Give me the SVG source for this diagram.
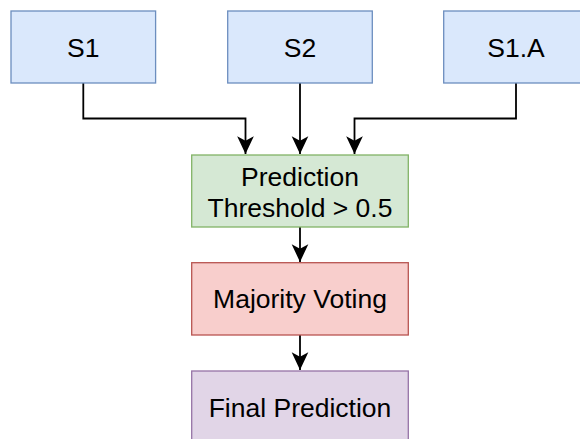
<svg xmlns="http://www.w3.org/2000/svg" width="580" height="439" viewBox="0 0 580 439">
  <style>
    .box { stroke-width: 1.3; }
    .blue { fill: #dae8fc; stroke: #6c8ebf; }
    .green { fill: #d5e8d4; stroke: #82b366; }
    .red { fill: #f8cecc; stroke: #b85450; }
    .purple { fill: #e1d5e7; stroke: #9673a6; }
    .lbl { font-family: "Liberation Sans", Arial, sans-serif; font-size: 26.5px; fill: #000000; text-anchor: middle; }
    .edge { fill: none; stroke: #000000; stroke-width: 1.8; }
  </style>
  <defs>
    <marker id="arrow" markerUnits="userSpaceOnUse" markerWidth="20" markerHeight="20" viewBox="-17 -9 18 18" refX="0" refY="0" orient="auto">
      <path d="M0,0 L-16,-7.5 L-12,0 L-16,7.5 Z" fill="#000000" stroke="none"/>
    </marker>
  </defs>
  <rect width="580" height="439" fill="#ffffff"/>

  <g id="edges">
    <path class="edge" d="M83.3,83 V118.5 H245.5 V154" marker-end="url(#arrow)"/>
    <path class="edge" d="M300,83 V154" marker-end="url(#arrow)"/>
    <path class="edge" d="M516,83 V118.5 H354.5 V154" marker-end="url(#arrow)"/>
    <path class="edge" d="M300,227 V262" marker-end="url(#arrow)"/>
    <path class="edge" d="M300,335 V370" marker-end="url(#arrow)"/>
  </g>

  <g id="node-s1">
    <rect class="box blue" x="11" y="11" width="144.6" height="72"/>
    <text class="lbl" x="83.3" y="56.5">S1</text>
  </g>
  <g id="node-s2">
    <rect class="box blue" x="227.7" y="11" width="144.6" height="72"/>
    <text class="lbl" x="300" y="56.5">S2</text>
  </g>
  <g id="node-s1a">
    <rect class="box blue" x="443.7" y="11" width="144.6" height="72"/>
    <text class="lbl" x="516" y="56.5">S1.A</text>
  </g>
  <g id="node-threshold">
    <rect class="box green" x="191.7" y="155" width="216.6" height="72"/>
    <text class="lbl" x="300" y="185.5">Prediction</text>
    <text class="lbl" x="300" y="216.5">Threshold &gt; 0.5</text>
  </g>
  <g id="node-voting">
    <rect class="box red" x="191.7" y="262.7" width="216.6" height="72.3"/>
    <text class="lbl" x="300" y="308.3">Majority Voting</text>
  </g>
  <g id="node-final">
    <rect class="box purple" x="191.7" y="371" width="216.6" height="72"/>
    <text class="lbl" x="300" y="417">Final Prediction</text>
  </g>
</svg>
